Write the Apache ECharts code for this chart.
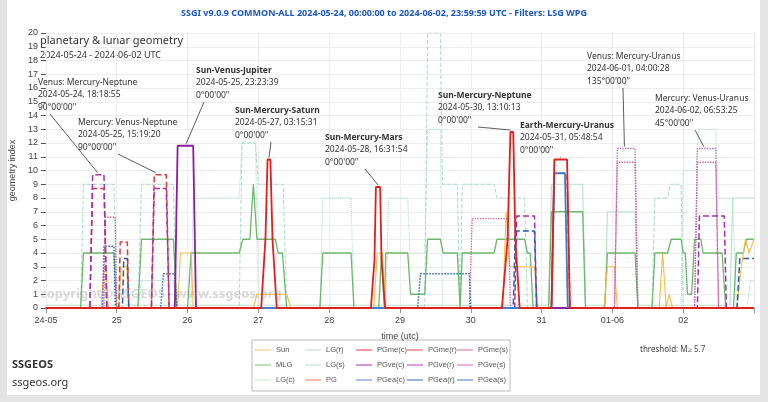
<!DOCTYPE html>
<html><head><meta charset="utf-8">
<script src="https://cdn.jsdelivr.net/npm/echarts@6/dist/echarts.min.js"></script>
<style>html,body{margin:0;padding:0;background:#e4e4e4}#c{width:768px;height:402px}</style>
</head><body><div id="c"></div>
<script>
const xLabels = ['24-05','25','26','27','28','29','30','31','01-06','02',''];
const legendCols = [['Sun','MLG','LG(c)'],['LG(r)','LG(s)','PG'],['PGme(c)','PGve(c)','PGea(c)'],['PGme(r)','PGve(r)','PGea(r)'],['PGme(s)','PGve(s)','PGea(s)']];
// x = days since 2024-05-24 00:00 UTC, y = geometry index
const sun = [[0,0],[0.78,0],[0.82,3],[0.85,3],[0.88,0],[1.03,0],[1.06,3],[1.14,3],[1.17,0],[1.86,0],[1.9,4],[2.05,4],[2.08,0],[2.93,0],[2.98,1],[3.4,1],[3.46,0],[4.63,0],[4.68,4],[4.75,4],[4.8,0],[6.45,0],[6.5,7],[6.55,3],[6.9,3],[6.95,0],[7.88,0],[7.93,3],[8.03,3],[8.07,0],[8.66,0],[8.71,4],[8.76,0],[8.8,1],[8.85,0],[9.76,0],[9.82,3],[9.88,5],[9.93,4],[10,5]];
const mlg = [[0,0],[0.49,0],[0.53,4],[0.96,4],[1.0,0],[1.3,0],[1.35,5],[1.8,5],[1.85,0],[2.0,0],[2.05,4],[2.73,4],[2.78,5],[2.88,5],[2.93,9],[2.98,5],[3.24,5],[3.28,4],[3.34,4],[3.4,0],[3.87,0],[3.91,4],[4.31,4],[4.35,0],[4.7,0],[4.74,4],[4.78,0],[4.8,4],[5.11,4],[5.15,1],[5.35,1],[5.39,5],[5.57,5],[5.61,4],[5.81,4],[5.85,0],[5.88,4],[6.33,4],[6.37,5],[6.76,5],[6.8,4],[6.84,4],[6.88,0],[7.1,0],[7.14,7],[7.58,7],[7.62,0],[7.89,0],[7.93,4],[8.32,4],[8.36,0],[8.56,0],[8.6,4],[8.78,4],[8.83,5],[8.97,5],[9.0,4],[9.03,4],[9.06,1],[9.12,1],[9.16,5],[9.25,5],[9.28,4],[9.55,4],[9.6,0],[9.71,0],[9.75,4],[9.85,4],[9.89,5],[10,5]];
const lgc = [[0,0.2],[7.1,0.2],[7.14,9],[7.58,9],[7.62,0.2],[7.9,0.2],[7.93,7],[8.32,7],[8.36,0.2],[9.66,0.2],[9.7,8],[10,8]];
const lgr = [[0,0],[0.49,0],[0.53,9],[0.96,9],[1.0,0],[1.3,0],[1.35,9],[1.8,9],[1.85,0],[2.73,0],[2.77,12],[2.96,12],[3.0,9],[3.35,9],[3.4,0],[5.35,0],[5.39,20],[5.57,20],[5.6,9],[5.81,9],[5.85,0],[5.88,9],[6.33,9],[6.37,8],[6.76,8],[6.8,0],[8.56,0],[8.6,8],[8.78,8],[8.82,9],[8.97,9],[9.0,0]];
const lgs = [[0,0],[1.3,0],[1.35,2],[1.8,2],[1.85,0],[2.05,0],[2.08,8],[2.73,8],[2.77,12],[2.96,12],[3.0,0],[3.87,0],[3.91,8],[4.31,8],[4.35,0],[4.8,0],[4.84,8],[5.11,8],[5.14,4],[5.35,4],[5.39,13],[5.57,13],[5.6,0],[8.97,0],[9.0,10],[9.18,10],[9.22,13],[9.46,13],[9.5,8],[9.7,8],[9.75,0],[9.9,0],[9.95,2],[10,2]];
const pg = [[0,0],[10,0]];
const pgmec = [[0,0],[3.04,0],[3.1,5],[3.13,10.8],[3.17,10.8],[3.2,5],[3.26,0],[4.59,0],[4.64,3.5],[4.66,8.8],[4.72,8.8],[4.74,3.5],[4.79,0],[6.44,0],[6.52,5],[6.56,12.8],[6.6,12.8],[6.63,5],[6.69,0],[7.14,0],[7.18,10.8],[7.36,10.8],[7.4,0],[10,0]];
const pgmer = [[0,0],[0.62,0],[0.66,8.7],[0.82,8.7],[0.86,0],[1.03,0],[1.05,4.8],[1.15,4.8],[1.17,0],[1.49,0],[1.53,9.7],[1.7,9.7],[1.74,0],[7.14,0],[7.18,9.8],[7.36,9.8],[7.4,0]];
const pgmes = [[0,0],[0.82,0],[0.84,6.6],[0.98,6.6],[1.0,0],[5.98,0],[6.02,6.5],[6.53,6.5],[6.56,0],[8.03,0],[8.07,10.6],[8.32,10.6],[8.36,0],[9.16,0],[9.2,10.6],[9.46,10.6],[9.5,0]];
const pgvec = [[0,0],[1.82,0],[1.86,11.8],[2.08,11.8],[2.12,0],[10,0]];
const pgver = [[0,0],[0.62,0],[0.66,9.7],[0.82,9.7],[0.86,0],[1.49,0],[1.53,8.7],[1.7,8.7],[1.74,0],[6.62,0],[6.65,6.7],[6.9,6.7],[6.93,0],[9.2,0],[9.23,6.7],[9.58,6.7],[9.61,0],[10,0]];
const pgves = [[0,0],[8.03,0],[8.07,11.6],[8.32,11.6],[8.36,0],[9.16,0],[9.2,11.6],[9.46,11.6],[9.5,0]];
const pgeac = [[0,0],[7.14,0],[7.18,9.8],[7.33,9.8],[7.37,0]];
const pgear = [[0,0],[1.08,0],[1.1,3.6],[1.15,3.6],[1.17,0],[6.6,0],[6.63,5.6],[6.9,5.6],[6.93,0],[9.76,0],[9.8,3.6],[10,3.6]];
const pgeas = [[0,0],[0.8,0],[0.82,4.5],[0.96,4.5],[0.98,0],[1.62,0],[1.66,2.5],[1.82,2.5],[1.85,0],[5.25,0],[5.29,2.5],[5.98,2.5],[6.0,0]];
const notes = [
 {t:['Venus: Mercury-Neptune','2024-05-24, 18:18:55',"90°00'00\""],b:false,x:38,y:78,p:[0.73,9.7],s:12},
 {t:['Mercury: Venus-Neptune','2024-05-25, 15:19:20',"90°00'00\""],b:false,x:78,y:118,p:[1.55,9.7],s:40},
 {t:['Sun-Venus-Jupiter','2024-05-25, 23:23:39',"0°00'00\""],b:true,x:196,y:66,p:[1.98,11.8],s:8},
 {t:['Sun-Mercury-Saturn','2024-05-27, 03:15:31',"0°00'00\""],b:true,x:235,y:106,p:[3.15,10.8],s:36},
 {t:['Sun-Mercury-Mars','2024-05-28, 16:31:54',"0°00'00\""],b:true,x:325,y:133,p:[4.69,8.8],s:40},
 {t:['Sun-Mercury-Neptune','2024-05-30, 13:10:13',"0°00'00\""],b:true,x:438,y:91,p:[6.56,12.8],s:40},
 {t:['Earth-Mercury-Uranus','2024-05-31, 05:48:54',"0°00'00\""],b:true,x:520,y:121,p:[7.27,10.8],s:40},
 {t:['Venus: Mercury-Uranus','2024-06-01, 04:00:28',"135°00'00\""],b:false,x:587,y:52,p:[8.17,11.6],s:36},
 {t:['Mercury: Venus-Uranus','2024-06-02, 06:53:25',"45°00'00\""],b:false,x:655,y:94,p:[9.29,11.6],s:40}
];
const chart = echarts.init(document.getElementById('c'));
function S(name,data,color,type,width){return {name,type:'line',data,symbol:'none',animation:false,lineStyle:{color,width:width||1.2,type:type||'solid'},itemStyle:{color}};}
const series = [
 S('LG(c)',lgc,'#b8e4cc','solid',1.2),
 S('LG(r)',lgr,'#a6dcc8','dashed',1),
 S('LG(s)',lgs,'#a6dcc8','dotted',1),
 S('MLG',mlg,'#6cb86c','solid',1.3),
 S('Sun',sun,'#f5bd4a','solid',1.1),
 S('PG',pg,'#e8644a','solid',1.4),
 S('PGme(s)',pgmes,'#d45a9c','dotted',1.3),
 S('PGve(s)',pgves,'#c060b8','dotted',1.3),
 S('PGea(s)',pgeas,'#2f66c0','dotted',1.5),
 S('PGme(r)',pgmer,'#e03a3a','dashed',1.5),
 S('PGve(r)',pgver,'#a52fb0','dashed',1.5),
 S('PGea(r)',pgear,'#2a5cb0','dashed',1.5),
 S('PGve(c)',pgvec,'#8e1d9e','solid',1.8),
 S('PGea(c)',pgeac,'#3f7ccc','solid',1.8),
 S('PGme(c)',pgmec,'#e0201c','solid',1.8)
];
const graphic = [
 {type:'rect',shape:{x:7,y:0,width:753,height:395},style:{fill:'#fff'},z:-10},
 {type:'rect',shape:{x:252,y:340,width:258,height:51},style:{fill:'#fff',stroke:'#bbb',lineWidth:1},z:-5},
 {type:'text',left:'center',top:9,style:{text:'SSGI v9.0.9 COMMON-ALL 2024-05-24, 00:00:00 to 2024-06-02, 23:59:59 UTC - Filters: LSG WPG',fill:'#1a56c8',font:'bold 9px "Noto Sans"'}},
 {type:'text',left:40,top:35,style:{text:'planetary & lunar geometry',fill:'#333',font:'11px "Noto Sans"'}},
 {type:'text',left:40,top:51,style:{text:'2024-05-24 - 2024-06-02 UTC',fill:'#333',font:'9px "Noto Sans"'}},
 {type:'text',left:40,top:288,z:50,style:{text:'copyright© SSGEOS - www.ssgeos.org',fill:'rgba(150,150,150,0.35)',font:'bold 13px "Noto Sans"'}},
 {type:'text',left:12,top:359,style:{text:'SSGEOS',fill:'#333',font:'bold 11px "Noto Sans"'}},
 {type:'text',left:12,top:377,style:{text:'ssgeos.org',fill:'#333',font:'11px "Noto Sans"'}},
 {type:'text',left:640,top:346,style:{text:'threshold: M≥ 5.7',fill:'#444',font:'8px "Noto Sans"'}}
];
const colLeft = [255,305,356,407,457];
const legends = legendCols.map((names,i)=>({data:names,orient:'vertical',left:colLeft[i],top:341,itemWidth:16,itemHeight:8,itemGap:7,padding:[5,0],
  textStyle:{fontSize:7.5,color:'#555'},icon:'path://M0,4L18,4L18,5L0,5Z'}));
chart.setOption({
 backgroundColor:'#e4e4e4',
 animation:false,
 grid:{left:38,right:14,top:33,bottom:94},
 xAxis:{type:'value',min:0,max:10,interval:1,name:'time (utc)',nameLocation:'middle',nameGap:24,nameTextStyle:{fontSize:9,color:'#444'},
  axisLine:{lineStyle:{color:'#999'}},axisTick:{show:true},axisLabel:{fontSize:9,color:'#444',formatter:v=>xLabels[Math.round(v)]},splitLine:{lineStyle:{color:'#eee'}}},
 yAxis:{type:'value',min:0,max:20,interval:1,name:'geometry index',nameLocation:'middle',nameGap:20,nameTextStyle:{fontSize:9,color:'#444'},
  axisLine:{show:false},axisLabel:{fontSize:9,color:'#444'},splitLine:{lineStyle:{color:'#eee'}}},
 legend:legends,
 series,graphic
});
const extra = [];
notes.forEach(n=>{
 n.t.forEach((s,i)=>{
  extra.push({type:'text',left:n.x,top:n.y+i*12.5,z:60,style:{text:s,fill:'#333',font:(n.b&&i===0?'bold ':'')+'8.5px "Noto Sans"'}});
 });
 const pt = chart.convertToPixel({gridIndex:0},n.p);
 extra.push({type:'line',z:60,shape:{x1:n.x+n.s,y1:n.y+36,x2:pt[0],y2:pt[1]-2},style:{stroke:'#333',lineWidth:0.8}});
});
chart.setOption({graphic:graphic.concat(extra)});
</script></body></html>
